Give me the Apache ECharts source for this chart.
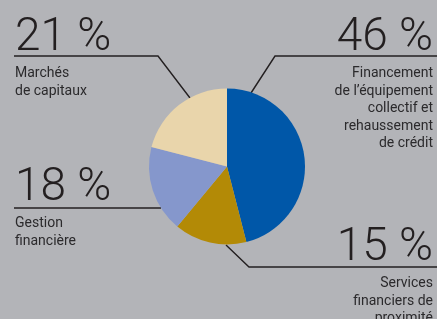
<!DOCTYPE html>
<html>
<head>
<meta charset="utf-8">
<script src="https://cdn.jsdelivr.net/npm/echarts@6/dist/echarts.min.js"></script>
<style>
  html, body { margin: 0; padding: 0; background: #b3b4b8; }
  #main { width: 437px; height: 319px; }
</style>
</head>
<body>
<div id="main"></div>
<script>
// data
var categories = [
    'Financement de l’équipement collectif et rehaussement de crédit',
    'Services financiers de proximité',
    'Gestion financière',
    'Marchés de capitaux'
];
var descLines = [
    ['Financement', 'de l’équipement', 'collectif et', 'rehaussement', 'de crédit'],
    ['Services', 'financiers de', 'proximité'],
    ['Gestion', 'financière'],
    ['Marchés', 'de capitaux']
];
var values = [46, 15, 18, 21];
var colors = ['#0057a8', '#b38a06', '#8597cc', '#e9d5ab'];

// label placement: anchor x, baseline of the big number, align, line attach point + elbow
var labelPos = [
    {x: 433, base: 52, align: 'right', edge: [251, 93], elbow: [275, 56], end: [437, 56]},
    {x: 433, base: 262, align: 'right', edge: [226, 245], elbow: [249, 267], end: [437, 267]},
    {x: 15, base: 202, align: 'left', edge: [161, 208], elbow: [100, 208], end: [14, 208]},
    {x: 15, base: 52, align: 'left', edge: [190, 98], elbow: [158, 56], end: [14, 56]}
];

var textColor = '#231f20';
var font = "Roboto, 'DejaVu Sans Condensed', sans-serif";

var seriesData = values.map(function (v, i) {
    return {
        value: v,
        name: categories[i],
        itemStyle: {color: colors[i]},
        label: {align: labelPos[i].align}
    };
});

var option = {
    backgroundColor: '#b3b4b8',
    animation: false,
    series: [
        {
            type: 'pie',
            center: [227, 166.5],
            radius: 78,
            startAngle: 90,
            clockwise: true,
            data: seriesData,
            label: {
                show: true,
                position: 'outside',
                overflow: 'none',
                color: textColor,
                fontFamily: font,
                formatter: function (p) {
                    return '{num|' + p.value + ' %}\n{desc|' + descLines[p.dataIndex].join('\n') + '}';
                },
                rich: {
                    num: {fontSize: 46, fontWeight: 300, lineHeight: 54, fontFamily: font, color: textColor},
                    desc: {fontSize: 14, lineHeight: 17.5, fontFamily: font, color: '#2b2a2c'}
                }
            },
            labelLine: {
                show: true,
                lineStyle: {color: textColor, width: 1.4}
            },
            labelLayout: function (params) {
                var lp = labelPos[params.dataIndex];
                return {
                    x: lp.x,
                    y: lp.base - 41,
                    align: lp.align,
                    verticalAlign: 'top',
                    labelLinePoints: [lp.edge, lp.elbow, lp.end]
                };
            }
        }
    ]
};

var chart = echarts.init(document.getElementById('main'));
chart.setOption(option);
</script>
</body>
</html>
